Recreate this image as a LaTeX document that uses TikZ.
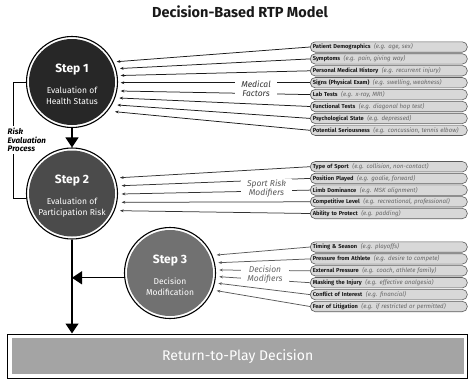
\documentclass[tikz,border=0pt]{standalone}
\usepackage{fontspec}
\setmainfont{Fira Sans}
\usetikzlibrary{arrows.meta}
\definecolor{cone}{HTML}{272727}
\definecolor{ctwo}{HTML}{4B4B4B}
\definecolor{cthree}{HTML}{717171}
\definecolor{cret}{HTML}{A4A4A4}
\definecolor{pillfill}{HTML}{D8D8D8}
\definecolor{pillline}{HTML}{5A5A5A}
\definecolor{exg}{HTML}{666666}
\newcommand\pilltext[2]{\textbf{#1}\hspace{3.5pt}{\fontsize{6.1}{7}\selectfont\itshape\color{exg}(#2)}}
\tikzset{
  stepcirc/.style={circle, draw=black, line width=1.1pt, fill=white, minimum size=91pt, inner sep=0pt,
    path picture={\fill[#1] (path picture bounding box.center) circle[radius=43pt];}},
  steptitle/.style={text=white, inner sep=0pt, font=\fontsize{12}{13}\selectfont\bfseries},
  stepdesc/.style={text=white, align=center, inner sep=0pt, font=\fontsize{8.5}{11}\selectfont},
  pill/.style={draw=pillline, fill=pillfill, line width=0.6pt, rounded corners=5pt, anchor=west,
    minimum height=10.4pt, text width=152pt, inner xsep=2.5pt, inner ysep=0pt, align=left, text=black!90,
    font=\fontsize{5.7}{7}\selectfont},
  feed/.style={-{Stealth[length=3.6pt,width=2.8pt]}, line width=0.75pt, draw=#1},
  feed/.default=black!90,
  bigarrow/.style={-{Triangle[length=10pt,width=13pt]}, line width=1.3pt, draw=black},
  grouplabel/.style={fill=white, align=center, inner xsep=6pt, inner ysep=1pt, font=\fontsize{8.5}{9}\selectfont\itshape},
}
\begin{document}
\begin{tikzpicture}[x=1pt,y=-1pt]
\useasboundingbox (0,0) rectangle (470,380);

\node[font=\fontsize{14.5}{16}\selectfont\bfseries, text=black!90] (title) at (240,12) {Decision-Based RTP Model};

% step circles
\node[stepcirc=cone] (s1) at (72,82) {};
\node[stepcirc=ctwo] (s2) at (72,193.5) {};
\node[stepcirc=cthree] (s3) at (170,273) {};
\node[steptitle] (t1) at (72,69.5) {Step 1};
\node[stepdesc] (d1) at (72,96) {Evaluation of\\Health Status};
\node[steptitle] (t2) at (72,181) {Step 2};
\node[stepdesc] (d2) at (72,207.5) {Evaluation of\\Participation Risk};
\node[steptitle] (t3) at (170,260.5) {Step 3};
\node[stepdesc] (d3) at (170,287) {Decision\\Modification};

% return box
\node[draw=black, line width=1.4pt, fill=white, minimum width=460pt, minimum height=44pt, inner sep=0pt,
  path picture={\fill[cret] ([xshift=4pt,yshift=-4pt]path picture bounding box.north west) rectangle ([xshift=-4pt,yshift=4pt]path picture bounding box.south east);},
  text=white, font=\fontsize{14}{16}\selectfont] (rtp) at (237.7,356.2) {Return-to-Play Decision};

% main flow
\draw[bigarrow] (s1.south) -- (s2.north);
\draw[bigarrow] (s2.south) -- (s2.south |- rtp.north);
\draw[bigarrow] (s3.186) -- (s3.186 -| s2.south);

% risk evaluation bracket
\draw[line width=0.9pt] (s1.west) -- ++(-12.5,0) |- (s2.186);
\node[fill=white, anchor=west, align=left, inner xsep=0pt, inner ysep=2pt, font=\fontsize{8}{8.3}\selectfont\bfseries\itshape] (rep) at (7.5,140) {Risk\\Evaluation\\Process};

% group 1 pills
\node[pill] (a1) at (310,47.0) {\pilltext{Patient Demographics}{e.g. age, sex}};
\node[pill] (a2) at (310,58.9) {\pilltext{Symptoms}{e.g. pain, giving way}};
\node[pill] (a3) at (310,70.8) {\pilltext{Personal Medical History}{e.g. recurrent injury}};
\node[pill] (a4) at (310,82.7) {\pilltext{Signs (Physical Exam)}{e.g. swelling, weakness}};
\node[pill] (a5) at (310,94.6) {\pilltext{Lab Tests}{e.g. x-ray, MRI}};
\node[pill] (a6) at (310,106.5) {\pilltext{Functional Tests}{e.g. diagonal hop test}};
\node[pill] (a7) at (310,118.4) {\pilltext{Psychological State}{e.g. depressed}};
\node[pill] (a8) at (310,130.3) {\pilltext{Potential Seriousness}{e.g. concussion, tennis elbow}};
\coordinate (ea1) at (116.7,61.7);
\coordinate (ea2) at (120,68.5);
\coordinate (ea3) at (120.7,75.5);
\coordinate (ea4) at (120.7,82.7);
\coordinate (ea5) at (120.7,91);
\coordinate (ea6) at (119.3,98);
\coordinate (ea7) at (117.3,105);
\coordinate (ea8) at (115,111.7);
\foreach \k in {1,...,8} {\draw[feed] (a\k.west) -- (ea\k);}
\node[grouplabel, text=black!80] (mf) at (256,88.8) {Medical\\Factors};

% group 2 pills
\node[pill] (b1) at (310,166.7) {\pilltext{Type of Sport}{e.g. collision, non-contact}};
\node[pill] (b2) at (310,178.4) {\pilltext{Position Played}{e.g. goalie, forward}};
\node[pill] (b3) at (310,190.1) {\pilltext{Limb Dominance}{e.g. MSK alignment}};
\node[pill] (b4) at (310,201.8) {\pilltext{Competitive Level}{e.g. recreational, professional}};
\node[pill] (b5) at (310,213.5) {\pilltext{Ability to Protect}{e.g. padding}};
\coordinate (eb1) at (120,177.7);
\coordinate (eb2) at (121.7,185.7);
\coordinate (eb3) at (121.7,194);
\coordinate (eb4) at (121.7,202.3);
\coordinate (eb5) at (120,210.7);
\foreach \k in {1,...,5} {\draw[feed=black!80] (b\k.west) -- (eb\k);}
\node[grouplabel, text=black!65] (sr) at (266.5,188.6) {Sport Risk\\Modifiers};

% group 3 pills
\node[pill] (c1) at (310,247.0) {\pilltext{Timing \& Season}{e.g. playoffs}};
\node[pill] (c2) at (310,258.9) {\pilltext{Pressure from Athlete}{e.g. desire to compete}};
\node[pill] (c3) at (310,270.8) {\pilltext{External Pressure}{e.g. coach, athlete family}};
\node[pill] (c4) at (310,282.7) {\pilltext{Masking the Injury}{e.g. effective analgesia}};
\node[pill] (c5) at (310,294.6) {\pilltext{Conflict of Interest}{e.g. financial}};
\node[pill] (c6) at (310,306.5) {\pilltext{Fear of Litigation}{e.g. if restricted or permitted}};
\coordinate (ec1) at (216.7,255);
\coordinate (ec2) at (218.3,262.7);
\coordinate (ec3) at (219.3,270);
\coordinate (ec4) at (219.3,276.7);
\coordinate (ec5) at (218.3,283.3);
\coordinate (ec6) at (216.7,290.7);
\foreach \k in {1,...,6} {\draw[feed=black!65] (c\k.west) -- (ec\k);}
\node[grouplabel, text=black!60] (dm) at (265,275) {Decision\\Modifiers};
\end{tikzpicture}
\end{document}
